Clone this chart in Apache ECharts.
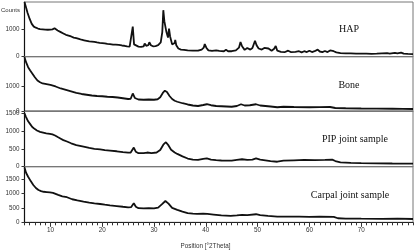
<!DOCTYPE html>
<html><head><meta charset="utf-8">
<script src="https://cdn.jsdelivr.net/npm/echarts@6/dist/echarts.min.js"></script>
<style>html,body{margin:0;padding:0;background:#fff}#c{width:415px;height:250px}</style>
</head><body><div id="c"></div>
<script>
// ---- data ----
const sampleNames = ['HAP', 'Bone', 'PIP joint sample', 'Carpal joint sample'];

const hapTheta = [5.0,5.3,5.6,6.0,6.4,6.8,7.2,7.6,8.0,8.5,9.0,9.5,10.0,10.4,10.8,11.0,11.4,12.0,12.5,13.0,13.5,14.0,14.5,15.0,15.5,16.0,16.5,17.0,17.5,18.0,18.5,19.0,19.5,20.0,20.5,21.0,21.5,21.8,22.1,22.6,22.9,23.2,23.8,24.3,24.8,25.3,25.6,25.9,26.15,26.5,27.0,27.5,28.0,28.2,28.5,28.9,29.1,29.4,29.8,30.3,30.8,31.3,31.6,31.8,32.0,32.2,32.4,32.7,32.9,33.1,33.5,34.0,34.1,34.3,34.7,35.2,35.5,35.8,36.5,37.5,38.5,39.2,39.6,39.8,40.1,40.5,41.2,42.0,42.3,42.6,43.5,43.9,44.3,45.0,45.8,46.4,46.7,47.0,47.5,48.0,48.3,48.6,49.0,49.5,49.8,50.2,50.5,50.8,51.3,51.6,52.1,52.3,52.7,53.2,53.5,53.8,54.5,55.3,55.9,56.4,57.3,58.0,58.5,59.0,59.5,60.0,60.5,61.0,61.6,62.0,62.5,63.0,63.5,64.0,64.3,64.7,65.2,66.0,67.0,68.0,69.0,70.0,71.0,72.0,73.0,74.0,75.0,75.5,76.5,77.0,77.7,78.2,79.0,80.0];
const hapCounts = [2000,1800,1600,1380,1200,1100,1060,1030,1010,1000,990,985,990,1000,1040,1000,960,900,850,800,770,740,700,680,650,620,600,580,560,550,540,520,505,500,490,470,460,480,440,440,470,430,410,400,380,370,400,1100,450,380,370,360,380,480,400,420,530,420,380,390,420,520,900,1700,1300,1340,900,700,1030,750,450,500,610,420,300,260,290,250,230,220,220,260,330,465,330,230,210,230,260,210,200,250,200,200,230,330,535,380,250,320,330,260,320,585,420,300,330,260,320,250,300,270,220,290,390,220,180,170,220,170,180,200,160,200,170,220,170,200,260,190,170,210,170,230,250,200,160,130,120,120,110,115,110,105,110,120,130,110,140,120,150,110,100,95];

const boneTheta = [5.0,5.3,5.7,6.1,6.5,7.0,7.5,8.0,8.5,9.0,9.5,10.0,10.5,11.0,11.5,12.0,12.5,13.0,14.0,15.0,16.0,17.0,18.0,19.0,20.0,21.0,22.0,23.0,24.0,25.0,25.5,25.9,26.3,27.0,28.0,29.0,30.0,30.7,31.2,31.7,32.1,32.5,33.0,33.5,34.0,34.5,35.5,36.5,37.5,38.5,39.5,40.2,41.0,42.0,43.0,44.0,45.0,46.0,46.8,47.5,48.5,49.7,50.5,51.5,52.5,53.8,55.0,57.0,60.0,62.0,64.0,65.0,67.0,70.0,73.0,76.0,78.0,80.0];
const boneCounts = [2150,1950,1750,1620,1500,1350,1220,1150,1100,1080,1060,1040,1010,980,940,900,870,840,780,720,680,650,620,600,590,570,560,540,510,480,490,700,520,460,450,460,450,470,550,720,810,760,600,480,410,370,310,260,220,200,240,270,230,200,190,180,170,200,270,220,230,270,220,200,180,150,170,160,150,155,160,120,110,100,95,90,85,80];

const pipTheta = [5.0,5.3,5.7,6.1,6.5,7.0,7.4,8.0,8.6,9.2,9.9,10.4,10.9,11.5,12.0,12.5,13.2,14.0,15.0,16.4,17.5,18.5,19.6,20.5,21.5,22.8,24.0,25.0,25.5,26.1,26.5,27.0,28.0,28.7,29.5,30.5,31.2,31.8,32.3,32.8,33.3,34.0,34.5,35.5,36.5,37.5,38.5,39.5,40.2,41.0,42.0,43.0,44.0,45.0,46.0,47.0,48.0,49.0,49.7,50.5,51.5,52.5,53.8,55.0,57.0,59.0,61.0,63.0,64.4,65.0,66.0,68.0,70.0,73.0,76.0,80.0];
const pipCounts = [1500,1400,1280,1200,1120,1060,1020,980,960,940,925,910,880,830,790,750,710,660,610,565,530,505,490,470,455,435,410,395,400,540,420,380,380,400,380,400,470,620,690,600,480,400,360,290,230,200,190,220,235,200,185,175,170,170,190,210,190,200,235,200,180,160,140,170,180,190,185,190,200,160,120,105,100,95,90,85];

const carpalTheta = [5.0,5.3,5.7,6.2,6.7,7.2,7.7,8.2,8.7,9.3,9.9,10.5,11.5,12.3,13.2,14.2,15.2,16.4,17.5,18.5,19.6,20.5,21.5,22.8,24.0,25.0,25.6,26.1,26.5,27.0,28.0,29.0,30.0,30.8,31.5,32.2,32.8,33.5,34.5,35.5,36.5,37.5,38.3,39.5,40.3,41.5,43.0,44.8,46.0,47.0,48.0,49.7,50.5,52.0,53.8,56.0,58.0,60.0,62.0,64.7,65.5,67.0,70.0,74.0,77.0,80.0];
const carpalCounts = [1900,1720,1580,1430,1295,1190,1120,1080,1060,1050,1040,1020,950,900,870,800,760,715,680,655,635,610,590,565,540,520,530,660,540,490,485,490,480,510,620,740,650,500,430,370,320,300,290,300,290,270,240,220,240,260,250,280,250,220,195,200,195,190,200,190,140,130,125,120,125,115];

const yMax = [2000, 2170, 1570, 1930];
const yTickValues = [[0,1000],[0,1000],[0,500,1000,1500],[0,500,1000,1500]];
const xTickLabels = [10,20,30,40,50,60,70];
const xMinorTicks = [5,6,7,8,9,10,11,12,13,14,15,16,17,18,19,20,21,22,23,24,25,26,27,28,29,30,31,32,33,34,35,36,37,38,39,40,41,42,43,44,45,46,47,48,49,50,51,52,53,54,55,56,57,58,59,60,61,62,63,64,65,66,67,68,69,70,71,72,73,74,75,76,77,78,79,80];

// ---- chart ----
const thetaSets = [hapTheta, boneTheta, pipTheta, carpalTheta];
const countSets = [hapCounts, boneCounts, pipCounts, carpalCounts];
const gridTops = [2, 56.7, 111, 166.7];
const gridHeights = [54.7, 54.3, 55.7, 55.6];
const labelPos = [[349, 29], [349, 85], [355, 139], [350, 195]];

const chart = echarts.init(document.getElementById('c'), null, {renderer: 'canvas'});
const grids = [], xAxes = [], yAxes = [], series = [], graphics = [];
const sansFont = 'Liberation Sans, Arial, sans-serif';
const plain = v => String(v);

for (let i = 0; i < 4; i++) {
  grids.push({left: 24.5, right: 2, top: gridTops[i], height: gridHeights[i],
    show: true, borderColor: '#777', borderWidth: 1, backgroundColor: 'transparent'});
  const bottom = i === 3;
  xAxes.push({type: 'value', gridIndex: i, min: 5, max: 80,
    axisLine: {show: true, onZero: false, lineStyle: {color: bottom ? '#222' : '#777', width: 1}},
    axisTick: bottom ? {show: true, customValues: xMinorTicks, length: 3, lineStyle: {color: '#333'}} : {show: false},
    axisLabel: bottom ? {show: true, customValues: xTickLabels, formatter: plain, fontSize: 6.3, color: '#333', margin: 5, fontFamily: sansFont} : {show: false},
    splitLine: {show: false}});
  yAxes.push({type: 'value', gridIndex: i, min: 0, max: yMax[i],
    axisLine: {show: true, onZero: false, lineStyle: {color: '#111', width: 1.2}},
    axisTick: {show: true, customValues: yTickValues[i], length: 3, lineStyle: {color: '#333'}},
    axisLabel: {show: true, customValues: yTickValues[i], formatter: plain, fontSize: 6.3, color: '#333', margin: 5, fontFamily: sansFont},
    splitLine: {show: false}});
  series.push({type: 'line', xAxisIndex: i, yAxisIndex: i, showSymbol: false, symbol: 'none',
    data: thetaSets[i].map((t, k) => [t, countSets[i][k]]),
    lineStyle: {color: '#111', width: 1.8}, silent: true});
  graphics.push({type: 'text', x: labelPos[i][0], y: labelPos[i][1],
    style: {text: sampleNames[i], font: '10px "Liberation Serif", "Times New Roman", serif', fill: '#111', textAlign: 'center', textVerticalAlign: 'middle'}});
}
// major ticks at the labelled positions, slightly longer
xAxes.push({type: 'value', gridIndex: 3, min: 5, max: 80, position: 'bottom',
  axisLine: {show: false}, axisLabel: {show: false}, splitLine: {show: false},
  axisTick: {show: true, customValues: xTickLabels, length: 4.5, lineStyle: {color: '#333'}}});

graphics.push({type: 'text', x: 20, y: 10,
  style: {text: 'Counts', font: '6px ' + sansFont, fill: '#333', textAlign: 'right', textVerticalAlign: 'middle'}});
graphics.push({type: 'text', x: 205.5, y: 246,
  style: {text: 'Position [°2Theta]', font: '6.3px ' + sansFont, fill: '#333', textAlign: 'center', textVerticalAlign: 'middle'}});

chart.setOption({animation: false, grid: grids, xAxis: xAxes, yAxis: yAxes, series: series, graphic: graphics});
</script></body></html>
